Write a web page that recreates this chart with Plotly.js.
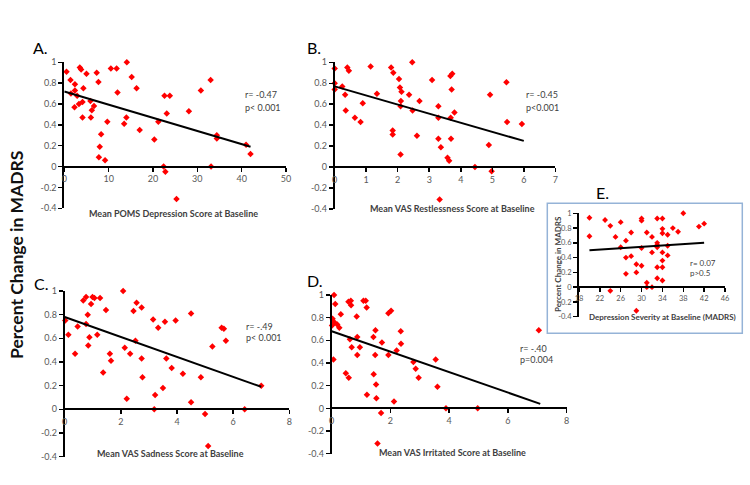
<!DOCTYPE html>
<html>
<head>
<meta charset="utf-8">
<script src="https://cdn.plot.ly/plotly-3.0.1.min.js"></script>
<style>
  html, body { margin: 0; padding: 0; background: #fff; }
  #chart { width: 750px; height: 485px; }
</style>
</head>
<body>
<div id="chart"></div>
<script>
// A. POMS depression vs percent change
const aX = [0.5, 1.4, 1.5, 2.4, 2.4, 2.3, 2.9, 3.3, 3.5, 3.8, 4.1, 4.1, 4.3, 5.0, 5.9, 6.2, 6.0, 6.7, 7.3, 7.7,
            7.8, 8.0, 8.3, 9.2, 9.7, 10.5, 11.8, 12.0, 14.1, 13.5, 14.0, 15.2, 16.3, 17.0, 20.3, 21.2, 22.4, 22.8,
            22.6, 23.1, 23.8, 25.3, 28.1, 30.8, 33.0, 33.1, 34.4, 34.4, 41.0, 42.0];
const aY = [0.91, 0.83, 0.70, 0.79, 0.73, 0.57, 0.68, 0.60, 0.95, 0.93, 0.62, 0.47, 0.75, 0.89, 0.63, 0.54, 0.47, 0.58, 0.90, 0.81,
            0.09, 0.19, 0.31, 0.06, 0.43, 0.94, 0.94, 0.71, 1.00, 0.41, 0.47, 0.86, 0.75, 0.35, 0.26, 0.43, 0.00, -0.05,
            0.68, 0.51, 0.68, -0.31, 0.53, 0.73, 0.83, 0.00, 0.30, 0.27, 0.21, 0.12];
const aFitX = [0, 42];
const aFitY = [0.72, 0.19];

// B. VAS restlessness
const bX = [0, 0, 0, 0.24, 0.33, 0.35, 0.40, 0.45, 0.64, 0.82, 0.89, 1.14, 1.34, 1.79, 1.86, 1.84, 1.84, 2.04, 2.07, 2.12,
            2.10, 2.09, 2.09, 2.36, 2.46, 2.47, 2.61, 2.69, 3.09, 3.29, 3.29, 3.29, 3.37, 3.33, 3.58, 3.63, 3.67, 3.73,
            3.71, 3.68, 3.69, 3.80, 4.45, 4.93, 4.89, 4.98, 5.45, 5.47, 5.94];
const bY = [0.94, 0.80, 0.74, 0.77, 0.69, 0.54, 0.95, 0.92, 0.47, 0.43, 0.61, 0.96, 0.70, 0.95, 0.90, 0.35, 0.31, 0.84, 0.76, 0.72,
            0.63, 0.58, 0.12, 0.69, 1.00, 0.54, 0.30, 0.63, 0.83, 0.58, 0.47, 0.27, 0.19, -0.31, 0.09, 0.06, 0.87, 0.89,
            0.74, 0.47, 0.27, 0.52, 0.00, 0.69, 0.21, -0.04, 0.81, 0.43, 0.41];
const bFitX = [0, 6];
const bFitY = [0.77, 0.25];

// C. VAS sadness
const cX = [0.02, 0.13, 0.37, 0.46, 0.66, 0.76, 0.76, 0.82, 0.84, 0.88, 0.94, 0.99, 1.06, 1.16, 1.26, 1.37, 1.47, 1.61, 1.65,
            2.08, 2.14, 2.21, 2.33, 2.45, 2.52, 2.56, 2.74, 2.74, 2.77, 3.15, 3.19, 3.22, 3.33, 3.50, 3.57, 3.62, 3.81,
            3.95, 4.21, 4.50, 4.50, 4.85, 5.00, 5.11, 5.26, 5.59, 5.67, 5.74, 6.41, 7.00];
const cY = [0.75, 0.63, 0.47, 0.70, 0.92, 0.95, 0.72, 0.80, 0.54, 0.61, 0.89, 0.95, 0.94, 0.63, 0.94, 0.31, 0.84, 0.47, 0.41,
            1.00, 0.52, 0.09, 0.47, 0.83, 0.58, 0.90, 0.86, 0.43, 0.27, 0.76, 0.00, 0.12, 0.69, 0.18, 0.74, 0.43, 0.35,
            0.75, 0.30, 0.81, 0.06, 0.27, -0.04, -0.31, 0.53, 0.69, 0.68, 0.58, 0.00, 0.20];
const cFitX = [0, 7];
const cFitY = [0.78, 0.19];

// D. VAS irritated
const dX = [0.08, 0.12, 0.03, 0.09, 0.01, 0.19, 0.26, 0.31, 0.06, 0.48, 0.58, 0.57, 0.65, 0.66, 0.62, 0.68, 0.85, 0.87, 0.87,
            0.96, 1.08, 1.16, 1.19, 1.20, 1.42, 1.43, 1.49, 1.48, 1.51, 1.52, 1.68, 1.56, 1.71, 1.93, 2.02, 1.93, 2.12,
            2.21, 2.35, 2.36, 2.78, 2.86, 2.96, 3.54, 3.60, 3.89, 4.97, 7.05];
const dY = [1.00, 0.92, 0.79, 0.76, 0.73, 0.74, 0.71, 0.83, 0.43, 0.31, 0.27, 0.94, 0.95, 0.91, 0.61, 0.54, 0.81, 0.63, 0.47,
            0.54, 0.95, 0.95, 0.89, 0.12, 0.63, 0.30, 0.69, 0.47, 0.21, 0.09, -0.04, -0.31, 0.58, 0.84, 0.86, 0.47, 0.06,
            0.51, 0.68, 0.57, 0.41, 0.35, 0.27, 0.43, 0.19, 0.00, 0.00, 0.69];
const dFitX = [0, 7.1];
const dFitY = [0.68, 0.04];

// E. MADRS baseline
const eX = [20, 20, 23, 24, 24, 25, 26, 26, 27, 27, 27, 28, 28, 29, 29, 29, 30, 30, 30, 30, 31, 31, 31, 32, 32, 32,
            33, 33, 33, 33, 33, 33, 34, 34, 34, 34, 34, 34, 34, 35, 35, 35, 36, 37, 38, 41, 42];
const eY = [0.94, 0.69, 0.91, 0.83, -0.05, 0.68, 0.88, 0.54, 0.63, 0.40, 0.18, 0.74, 0.42, 0.31, 0.20, -0.32, 0.93, 0.90, 0.53, 0.29,
            0.74, 0.06, 0.00, 0.00, 0.68, 0.47, 0.93, 0.60, 0.57, 0.54, 0.27, 0.12, 0.93, 0.79, 0.73, 0.47, 0.36, 0.27, 0.09,
            0.71, 0.56, 0.43, 0.80, 0.75, 1.00, 0.82, 0.86];
const eFitX = [20, 42];
const eFitY = [0.50, 0.60];

const yTicks = [-0.4, -0.2, 0, 0.2, 0.4, 0.6, 0.8, 1];
const yTickText = ['-0.4', '-0.2', '0', '0.2', '0.4', '0.6', '0.8', '1'];

const W = 750, H = 485;
const fx = p => p / W;
const fy = p => 1 - p / H;

const panels = [
    { x: aX, y: aY, fx: aFitX, fy: aFitY, xpx: [64.3, 286], ypx: [208.3, 62.3], xr: [0, 50], dt: 10, fs: 9 },
    { x: bX, y: bY, fx: bFitX, fy: bFitY, xpx: [334.7, 555.3], ypx: [209, 62.3], xr: [0, 7], dt: 1, fs: 9 },
    { x: cX, y: cY, fx: cFitX, fy: cFitY, xpx: [64.7, 289.3], ypx: [456.6, 291], xr: [0, 8], dt: 2, fs: 9 },
    { x: dX, y: dY, fx: dFitX, fy: dFitY, xpx: [331.7, 566.7], ypx: [453.7, 295], xr: [0, 8], dt: 2, fs: 9 },
    { x: eX, y: eY, fx: eFitX, fy: eFitY, xpx: [579, 725], ypx: [316.7, 213.3], xr: [18, 46], dt: 4, fs: 7.5 }
];

const font = 'Lato, "Open Sans", sans-serif';
const traces = [];
const layout = {
    width: W, height: H,
    margin: { l: 0, r: 0, t: 0, b: 0 },
    paper_bgcolor: 'white', plot_bgcolor: 'rgba(0,0,0,0)',
    showlegend: false,
    font: { family: font },
    shapes: [{
        type: 'rect', xref: 'paper', yref: 'paper',
        x0: fx(547.3), x1: fx(742.3), y0: fy(333.3), y1: fy(203.3),
        line: { color: '#95b3d7', width: 1.5 }, layer: 'below'
    }],
    annotations: []
};

panels.forEach((p, i) => {
    const n = i === 0 ? '' : String(i + 1);
    const xa = 'x' + n, ya = 'y' + n;
    traces.push({
        x: p.x, y: p.y, xaxis: xa, yaxis: ya, type: 'scatter', mode: 'markers', cliponaxis: false,
        marker: { symbol: 'diamond', size: i === 4 ? 4.5 : 5, color: '#ff0000' }
    });
    traces.push({
        x: p.fx, y: p.fy, xaxis: xa, yaxis: ya, type: 'scatter', mode: 'lines', cliponaxis: false,
        line: { color: '#000', width: 2 }
    });
    const yd = [fy(p.ypx[0]), fy(p.ypx[1])];
    const zeroPos = yd[0] + (yd[1] - yd[0]) * 0.4 / 1.4;
    layout['xaxis' + n] = {
        domain: [fx(p.xpx[0]), fx(p.xpx[1])], range: p.xr, dtick: p.dt, tick0: p.xr[0],
        anchor: 'free', position: zeroPos,
        showline: true, linecolor: '#000', linewidth: 2,
        ticks: 'outside', ticklen: 4, tickcolor: '#000', tickwidth: 1.5,
        showgrid: false, zeroline: false,
        tickfont: { size: p.fs, color: '#595959', family: font }
    };
    layout['yaxis' + n] = {
        domain: yd, range: [-0.4, 1], anchor: xa,
        tickvals: yTicks, ticktext: yTickText,
        showline: true, linecolor: '#000', linewidth: 2,
        ticks: 'outside', ticklen: 4, tickcolor: '#000', tickwidth: 1.5,
        showgrid: false, zeroline: false,
        tickfont: { size: p.fs, color: '#595959', family: font }
    };
});

function txt(text, x, y, size, opts) {
    layout.annotations.push(Object.assign({
        text: text, x: fx(x), y: fy(y), xref: 'paper', yref: 'paper',
        showarrow: false, xanchor: 'center', yanchor: 'middle',
        font: { size: size, color: '#404040', family: font }
    }, opts || {}));
}

// panel letters
const letter = { font: { size: 16, color: '#000', family: font } };
txt('A.', 40, 48, 16, letter);
txt('B.', 314, 48, 16, letter);
txt('C.', 41, 283, 16, letter);
txt('D.', 315, 280, 16, letter);
txt('E.', 602, 193, 16, letter);

// axis titles
const bold = (s, c) => ({ font: { size: s, color: c || '#404040', family: font, weight: 'bold' } });
txt('Mean POMS Depression Score at Baseline', 173, 213, 9, bold(9));
txt('Mean VAS Restlessness Score at Baseline', 452, 208, 9, bold(9));
txt('Mean VAS Sadness Score at Baseline', 170, 453, 9, bold(9));
txt('Mean VAS Irritated Score at Baseline', 452, 452, 9, bold(9));
txt('Depression Severity at Baseline (MADRS)', 662, 317, 8, bold(8));
txt('Percent Change in MADRS', 558, 264, 8, Object.assign(bold(8), { textangle: -90 }));
txt('Percent Change in MADRS', 16, 255, 17.5, Object.assign(bold(17.5, '#111'), { textangle: -90 }));

// statistics
const st = { xanchor: 'left', font: { size: 9, color: '#404040', family: font } };
txt('r= -0.47', 243, 95, 9, st);
txt('p< 0.001', 243, 107, 9, st);
txt('r= -0.45', 524, 95, 9, st);
txt('p<0.001', 524, 107, 9, st);
txt('r= -.49', 244, 326, 9, st);
txt('p< 0.001', 244, 337, 9, st);
txt('r= -.40', 518, 348, 9, st);
txt('p=0.004', 518, 359, 9, st);
const st8 = { xanchor: 'left', font: { size: 8, color: '#404040', family: font } };
txt('r= 0.07', 688, 263, 8, st8);
txt('p>0.5', 688, 273, 8, st8);

Plotly.newPlot('chart', traces, layout, { displayModeBar: false, staticPlot: true });
</script>
</body>
</html>
